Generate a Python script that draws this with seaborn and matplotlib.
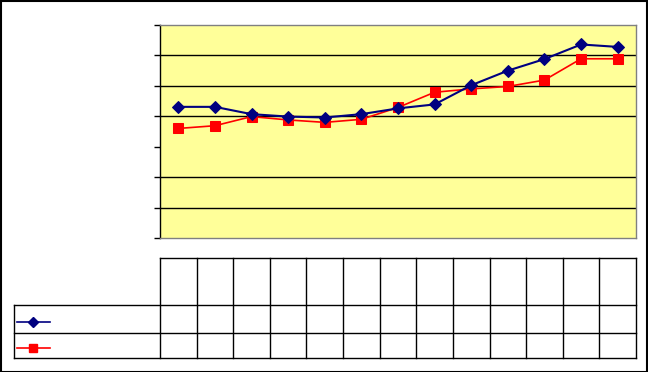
import matplotlib
matplotlib.use("Agg")
import matplotlib.pyplot as plt
import seaborn as sns
import pandas as pd
from matplotlib.lines import Line2D
from matplotlib.patches import Rectangle

# ---- data (no text labels are shown in the reference) ----
categories = list(range(1, 14))
series_a = [4.31, 4.31, 4.07, 3.99, 3.96, 4.07, 4.26, 4.39, 5.02, 5.50, 5.88, 6.36, 6.28]
series_b = [3.60, 3.69, 3.99, 3.88, 3.80, 3.90, 4.29, 4.79, 4.90, 4.98, 5.19, 5.89, 5.89]
y_ticks = [0, 1, 2, 3, 4, 5, 6, 7]
grid_levels = [1, 2, 4, 5, 6]

df = pd.DataFrame({
    "pos": list(range(len(categories))) * 2,
    "value": series_a + series_b,
    "series": ["A"] * len(categories) + ["B"] * len(categories),
})

W, H = 648, 372
fig = plt.figure(figsize=(W / 100, H / 100), dpi=100)
fig.patch.set_facecolor("white")

def fx(x):
    return x / W

def fy(y):
    return 1 - y / H

left, right, top, bottom = 160, 636, 25, 238
ax = fig.add_axes([fx(left), fy(bottom), (right - left) / W, (bottom - top) / H])
ax.set_facecolor("#FFFF99")

sns.lineplot(data=df[df.series == "A"], x="pos", y="value", ax=ax, color="#000080",
             marker="D", markersize=6, markeredgecolor="#000080", linewidth=1.5,
             legend=False, zorder=4)
sns.lineplot(data=df[df.series == "B"], x="pos", y="value", ax=ax, color="#FF0000",
             marker="s", markersize=6.5, markeredgecolor="#FF0000", linewidth=1.2,
             legend=False, zorder=3)

n = len(categories)
ax.set_xlim(-0.5, n - 0.5)
ax.set_ylim(y_ticks[0], y_ticks[-1])
for g in grid_levels:
    ax.axhline(g, color="black", linewidth=1.0, zorder=1)

ax.set_yticks(y_ticks)
ax.set_yticklabels([])
ax.set_xticks([])
ax.set_xlabel("")
ax.set_ylabel("")
ax.tick_params(axis="y", direction="out", length=4, width=1, color="black")
ax.spines["left"].set_color("black")
ax.spines["left"].set_linewidth(1)
for s in ["top", "right", "bottom"]:
    ax.spines[s].set_color("#808080")
    ax.spines[s].set_linewidth(1)

# ---- data table grid below the plot ----
lw = 1.0
col_w = (right - left) / n
t_top, r1, r2, t_bot = 258, 305, 333, 358
tab_left = 13.6

def hline(y, x0, x1):
    fig.add_artist(Line2D([fx(x0), fx(x1)], [fy(y), fy(y)], color="black", linewidth=lw))

def vline(x, y0, y1):
    fig.add_artist(Line2D([fx(x), fx(x)], [fy(y0), fy(y1)], color="black", linewidth=lw))

hline(t_top, left, right)
for yy in (r1, r2, t_bot):
    hline(yy, tab_left, right)
vline(tab_left, r1, t_bot)
for k in range(n + 1):
    vline(left + col_w * k, t_top, t_bot)

# legend keys in the table
for yy, col, mk, ms in ((322, "#000080", "D", 5.5), (348, "#FF0000", "s", 6)):
    fig.add_artist(Line2D([fx(17), fx(50)], [fy(yy), fy(yy)], color=col, linewidth=1.2))
    fig.add_artist(Line2D([fx(33)], [fy(yy)], color=col, marker=mk, markersize=ms,
                          markeredgecolor=col, linestyle="none"))

# outer border
fig.add_artist(Rectangle((0.5 / W, 0.5 / H), 1 - 1.5 / W, 1 - 1.5 / H, fill=False,
                         edgecolor="black", linewidth=1.5, transform=fig.transFigure))

fig.savefig("out.png", dpi=100)
